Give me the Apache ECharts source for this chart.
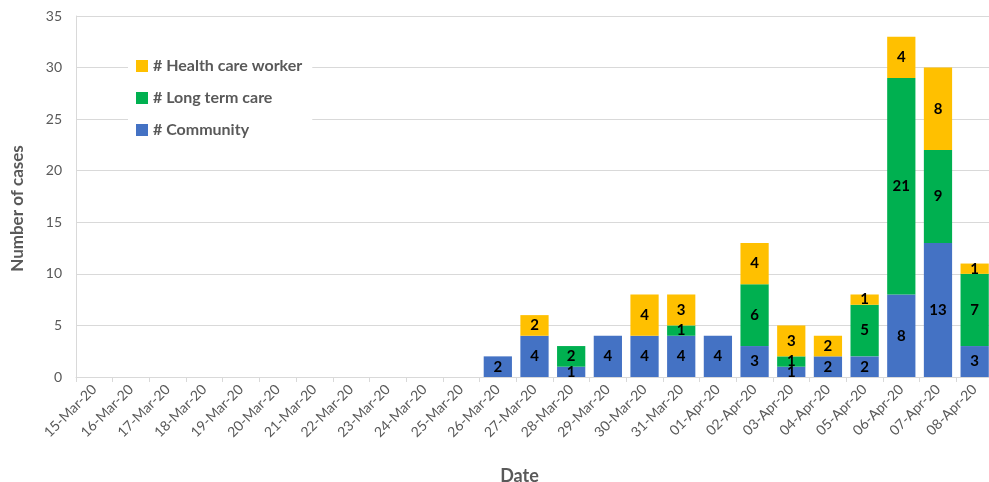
<!DOCTYPE html>
<html>
<head>
<meta charset="utf-8">
<script src="https://cdn.jsdelivr.net/npm/echarts@6/dist/echarts.min.js"></script>
<style>html,body{margin:0;padding:0;background:#fff;}#c{width:989px;height:482px;}</style>
</head>
<body>
<div id="c"></div>
<script>
const categories = ['15-Mar-20','16-Mar-20','17-Mar-20','18-Mar-20','19-Mar-20','20-Mar-20','21-Mar-20','22-Mar-20','23-Mar-20','24-Mar-20','25-Mar-20','26-Mar-20','27-Mar-20','28-Mar-20','29-Mar-20','30-Mar-20','31-Mar-20','01-Apr-20','02-Apr-20','03-Apr-20','04-Apr-20','05-Apr-20','06-Apr-20','07-Apr-20','08-Apr-20'];
const community = [0,0,0,0,0,0,0,0,0,0,0,2,4,1,4,4,4,4,3,1,2,2,8,13,3];
const longTermCare = [0,0,0,0,0,0,0,0,0,0,0,0,0,2,0,0,1,0,6,1,0,5,21,9,7];
const healthCareWorker = [0,0,0,0,0,0,0,0,0,0,0,0,2,0,0,4,3,0,4,3,2,1,4,8,1];
const seriesNames = ['# Community','# Long term care','# Health care worker'];
const colors = ['#4472C4','#00B050','#FFC000'];

const font = 'Lato, "Open Sans", sans-serif';
const chart = echarts.init(document.getElementById('c'));
const label = {
  show: true, position: 'inside', color: '#000', fontWeight: 'bold', fontSize: 15, fontFamily: font,
  formatter: p => (p.value ? String(p.value) : '')
};
function mk(name, data, color) {
  return { name, type: 'bar', stack: 'total', data, barWidth: '77%', itemStyle: { color }, label, emphasis: { disabled: true } };
}
chart.setOption({
  animation: false,
  textStyle: { fontFamily: font },
  grid: { left: 76, top: 16, width: 917, height: 361, containLabel: false, outerBoundsMode: 'none' },
  legend: {
    data: ['# Health care worker', '# Long term care', '# Community'],
    orient: 'vertical', left: 128, top: 50, itemWidth: 12, itemHeight: 12, itemGap: 16,
    backgroundColor: '#fff', padding: [8, 10, 8, 8], icon: 'rect',
    textStyle: { color: '#595959', fontSize: 16, fontFamily: font, fontWeight: 'bold' }
  },
  xAxis: {
    type: 'category', data: categories,
    axisLine: { lineStyle: { color: '#d9d9d9' } },
    axisTick: { show: true, interval: 0, lineStyle: { color: '#d9d9d9' }, length: 5 },
    axisLabel: { interval: 0, rotate: 45, color: '#595959', fontSize: 14, fontFamily: font, margin: 10 },
    name: 'Date', nameLocation: 'middle', nameGap: 90,
    nameTextStyle: { color: '#595959', fontSize: 18, fontWeight: 'bold', fontFamily: font, padding: [0, 30, 0, 0] }
  },
  yAxis: {
    type: 'value', min: 0, max: 35, interval: 5,
    axisLine: { show: true, lineStyle: { color: '#d9d9d9' } },
    axisTick: { show: false },
    splitLine: { lineStyle: { color: '#d9d9d9' } },
    axisLabel: { color: '#595959', fontSize: 14, fontFamily: font, margin: 14 },
    name: 'Number of cases', nameLocation: 'middle', nameGap: 50,
    nameTextStyle: { color: '#595959', fontSize: 17, fontWeight: 'bold', fontFamily: font, padding: [0, 24, 0, 0] }
  },
  series: [
    mk(seriesNames[0], community, colors[0]),
    mk(seriesNames[1], longTermCare, colors[1]),
    mk(seriesNames[2], healthCareWorker, colors[2])
  ]
});
</script>
</body>
</html>
